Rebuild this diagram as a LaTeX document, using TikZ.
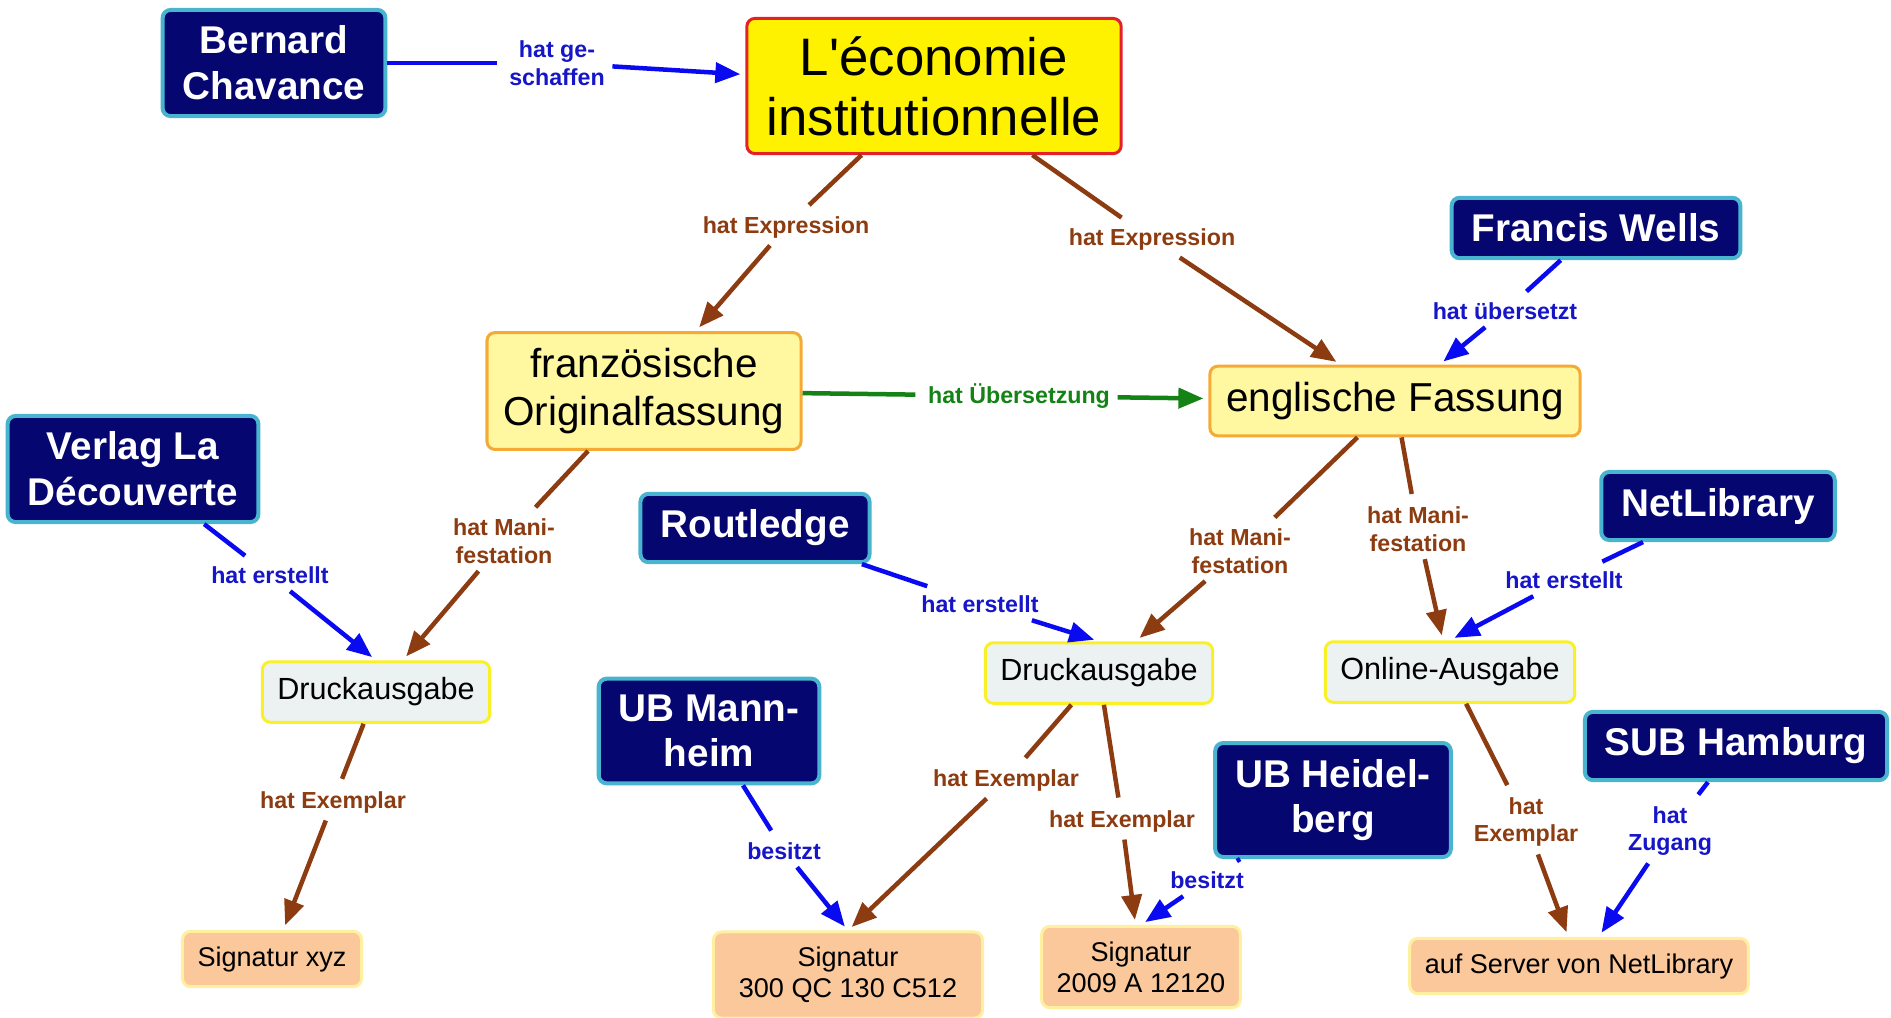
\documentclass[tikz,border=0pt]{standalone}
\usepackage{fontspec}
\setmainfont{Liberation Sans}
\usetikzlibrary{bayesnet,arrows.meta}

\definecolor{navy}{RGB}{6,6,112}
\definecolor{cyanrim}{RGB}{72,180,208}
\definecolor{workred}{RGB}{228,32,40}
\definecolor{exprfill}{RGB}{255,248,160}
\definecolor{exprrim}{RGB}{244,170,52}
\definecolor{manifill}{RGB}{236,242,242}
\definecolor{manirim}{RGB}{250,240,40}
\definecolor{itemfill}{RGB}{250,200,155}
\definecolor{itemrim}{RGB}{255,240,160}
\definecolor{relblue}{RGB}{10,10,240}
\definecolor{relbrown}{RGB}{140,60,16}
\definecolor{relgreen}{RGB}{20,130,20}
\definecolor{txtblue}{RGB}{22,22,200}

\tikzset{
  box/.style={rectangle, rounded corners=0.08cm, line width=0.04cm, align=center},
  agent/.style={box, draw=cyanrim, fill=navy, text=white,
    font=\fontsize{11}{13}\selectfont\bfseries, inner xsep=0.2cm, inner ysep=0.16cm},
  work/.style={box, draw=workred, line width=0.03cm, fill=yellow,
    font=\fontsize{15}{17}\selectfont, inner xsep=0.2cm, inner ysep=0.18cm},
  expression/.style={box, draw=exprrim, line width=0.03cm, fill=exprfill,
    font=\fontsize{11.5}{13.4}\selectfont, inner xsep=0.165cm, inner ysep=0.16cm},
  manifestation/.style={box, draw=manirim, line width=0.03cm, fill=manifill,
    font=\fontsize{8.7}{10}\selectfont, inner xsep=0.15cm, inner ysep=0.16cm},
  exemplar/.style={box, draw=itemrim, line width=0.03cm, fill=itemfill,
    font=\fontsize{7.7}{8.9}\selectfont, inner sep=0.15cm},
  phrase/.style={font=\fontsize{6.6}{7.9}\selectfont\bfseries, align=center, inner sep=0.07cm},
  bluephrase/.style={phrase, text=txtblue},
  brownphrase/.style={phrase, text=relbrown},
  greenphrase/.style={phrase, text=relgreen},
  rel/.style={line width=0.045cm, >={Triangle[length=0.25cm,width=0.2cm]}, shorten >=0.05cm},
  bluerel/.style={rel, draw=relblue, fill=relblue},
  brownrel/.style={rel, draw=relbrown, fill=relbrown},
  greenrel/.style={rel, draw=relgreen, fill=relgreen},
}

\begin{document}
\begin{tikzpicture}[x=0.01cm, y=-0.01cm]

  \useasboundingbox (0,0) rectangle (1891,1017);

  \node (work) [work] at (934,86) {L\textquotesingle économie\\institutionnelle};
  \node (chavance) [agent] at (274,63) {Bernard\\Chavance};
  \node (fr) [expression] at (644,391) {französische\\Originalfassung};
  \node (en) [expression] at (1395,401) {englische Fassung};
  \node (wells) [agent] at (1596,228) {Francis Wells};

  \node (decouverte) [agent] at (133,469) {Verlag La\\Découverte};
  \node (routledge) [agent] at (755,528) {Routledge};
  \node (netlib) [agent] at (1718,506) {NetLibrary};
  \node (printfr) [manifestation] at (376,692) {Druckausgabe};
  \node (printen) [manifestation] at (1099,673) {Druckausgabe};
  \node (online) [manifestation] at (1450,672) {Online-Ausgabe};

  \node (mannheim) [agent] at (709,731) {UB Mann-\\heim};
  \node (heidelberg) [agent] at (1333,800) {UB Heidel-\\berg};
  \node (hamburg) [agent] at (1736,746) {SUB Hamburg};
  \node (sigxyz) [exemplar] at (272,959) {Signatur xyz};
  \node (sigma) [exemplar, minimum width=2.69cm] at (848,975) {Signatur\\300 QC 130 C512};
  \node (sighd) [exemplar] at (1141,967) {Signatur\\2009 A 12120};
  \node (server) [exemplar] at (1579,966) {auf Server von NetLibrary};

  \node (created) [bluephrase] at (557,63) {hat ge-\\schaffen};
  \node (exprfr) [brownphrase] at (786,227) {hat Expression};
  \node (expren) [brownphrase] at (1152,239) {hat Expression};
  \node (transl) [bluephrase] at (1505,311) {hat übersetzt};
  \node (transof) [greenphrase] at (1019,396) {hat Übersetzung};
  \node (manifr) [brownphrase] at (504,541) {hat Mani-\\festation};
  \node (madefr) [bluephrase] at (270,575) {hat erstellt};
  \node (madeen) [bluephrase] at (980,604) {hat erstellt};
  \node (manien) [brownphrase] at (1240,551) {hat Mani-\\festation};
  \node (manion) [brownphrase] at (1418,529) {hat Mani-\\festation};
  \node (madeon) [bluephrase] at (1564,580) {hat erstellt};
  \node (copyfr) [brownphrase] at (333,802) {hat Exemplar};
  \node (ownma) [bluephrase] at (784,851) {besitzt};
  \node (copyma) [brownphrase] at (1006,780) {hat Exemplar};
  \node (copyhd) [brownphrase] at (1122,821) {hat Exemplar};
  \node (ownhd) [bluephrase] at (1207,880) {besitzt};
  \node (copyon) [brownphrase] at (1526,822) {hat\\Exemplar};
  \node (access) [bluephrase] at (1670,831) {hat\\Zugang};

  \edge [-, bluerel] {chavance} {created};
  \edge [bluerel] {created} {work};
  \edge [-, brownrel] {work} {exprfr,expren};
  \edge [brownrel] {exprfr} {fr};
  \edge [brownrel] {expren} {en};
  \edge [-, bluerel] {wells} {transl};
  \edge [bluerel] {transl} {en};
  \edge [-, greenrel] {fr} {transof};
  \edge [greenrel] {transof} {en};

  \edge [-, brownrel] {fr} {manifr};
  \edge [brownrel] {manifr} {printfr};
  \edge [-, bluerel] {decouverte} {madefr};
  \edge [bluerel] {madefr} {printfr.north};
  \edge [-, bluerel] {routledge} {madeen};
  \edge [bluerel] {madeen} {printen.north};
  \edge [-, brownrel] {en} {manien,manion};
  \edge [brownrel] {manien} {printen};
  \edge [brownrel] {manion} {online};
  \edge [-, bluerel] {netlib} {madeon};
  \edge [bluerel] {madeon} {online.north};

  \edge [-, brownrel] {printfr} {copyfr};
  \edge [brownrel] {copyfr} {sigxyz};
  \edge [-, brownrel] {printen} {copyma,copyhd};
  \edge [brownrel] {copyma} {sigma.north};
  \edge [brownrel] {copyhd} {sighd};
  \edge [-, bluerel] {mannheim} {ownma};
  \edge [bluerel] {ownma} {sigma.north};
  \edge [-, bluerel] {heidelberg} {ownhd};
  \edge [bluerel] {ownhd} {sighd.north};
  \edge [-, brownrel] {online} {copyon};
  \edge [brownrel] {copyon} {server};
  \edge [-, bluerel] {hamburg} {access};
  \edge [bluerel] {access} {server};

\end{tikzpicture}
\end{document}
